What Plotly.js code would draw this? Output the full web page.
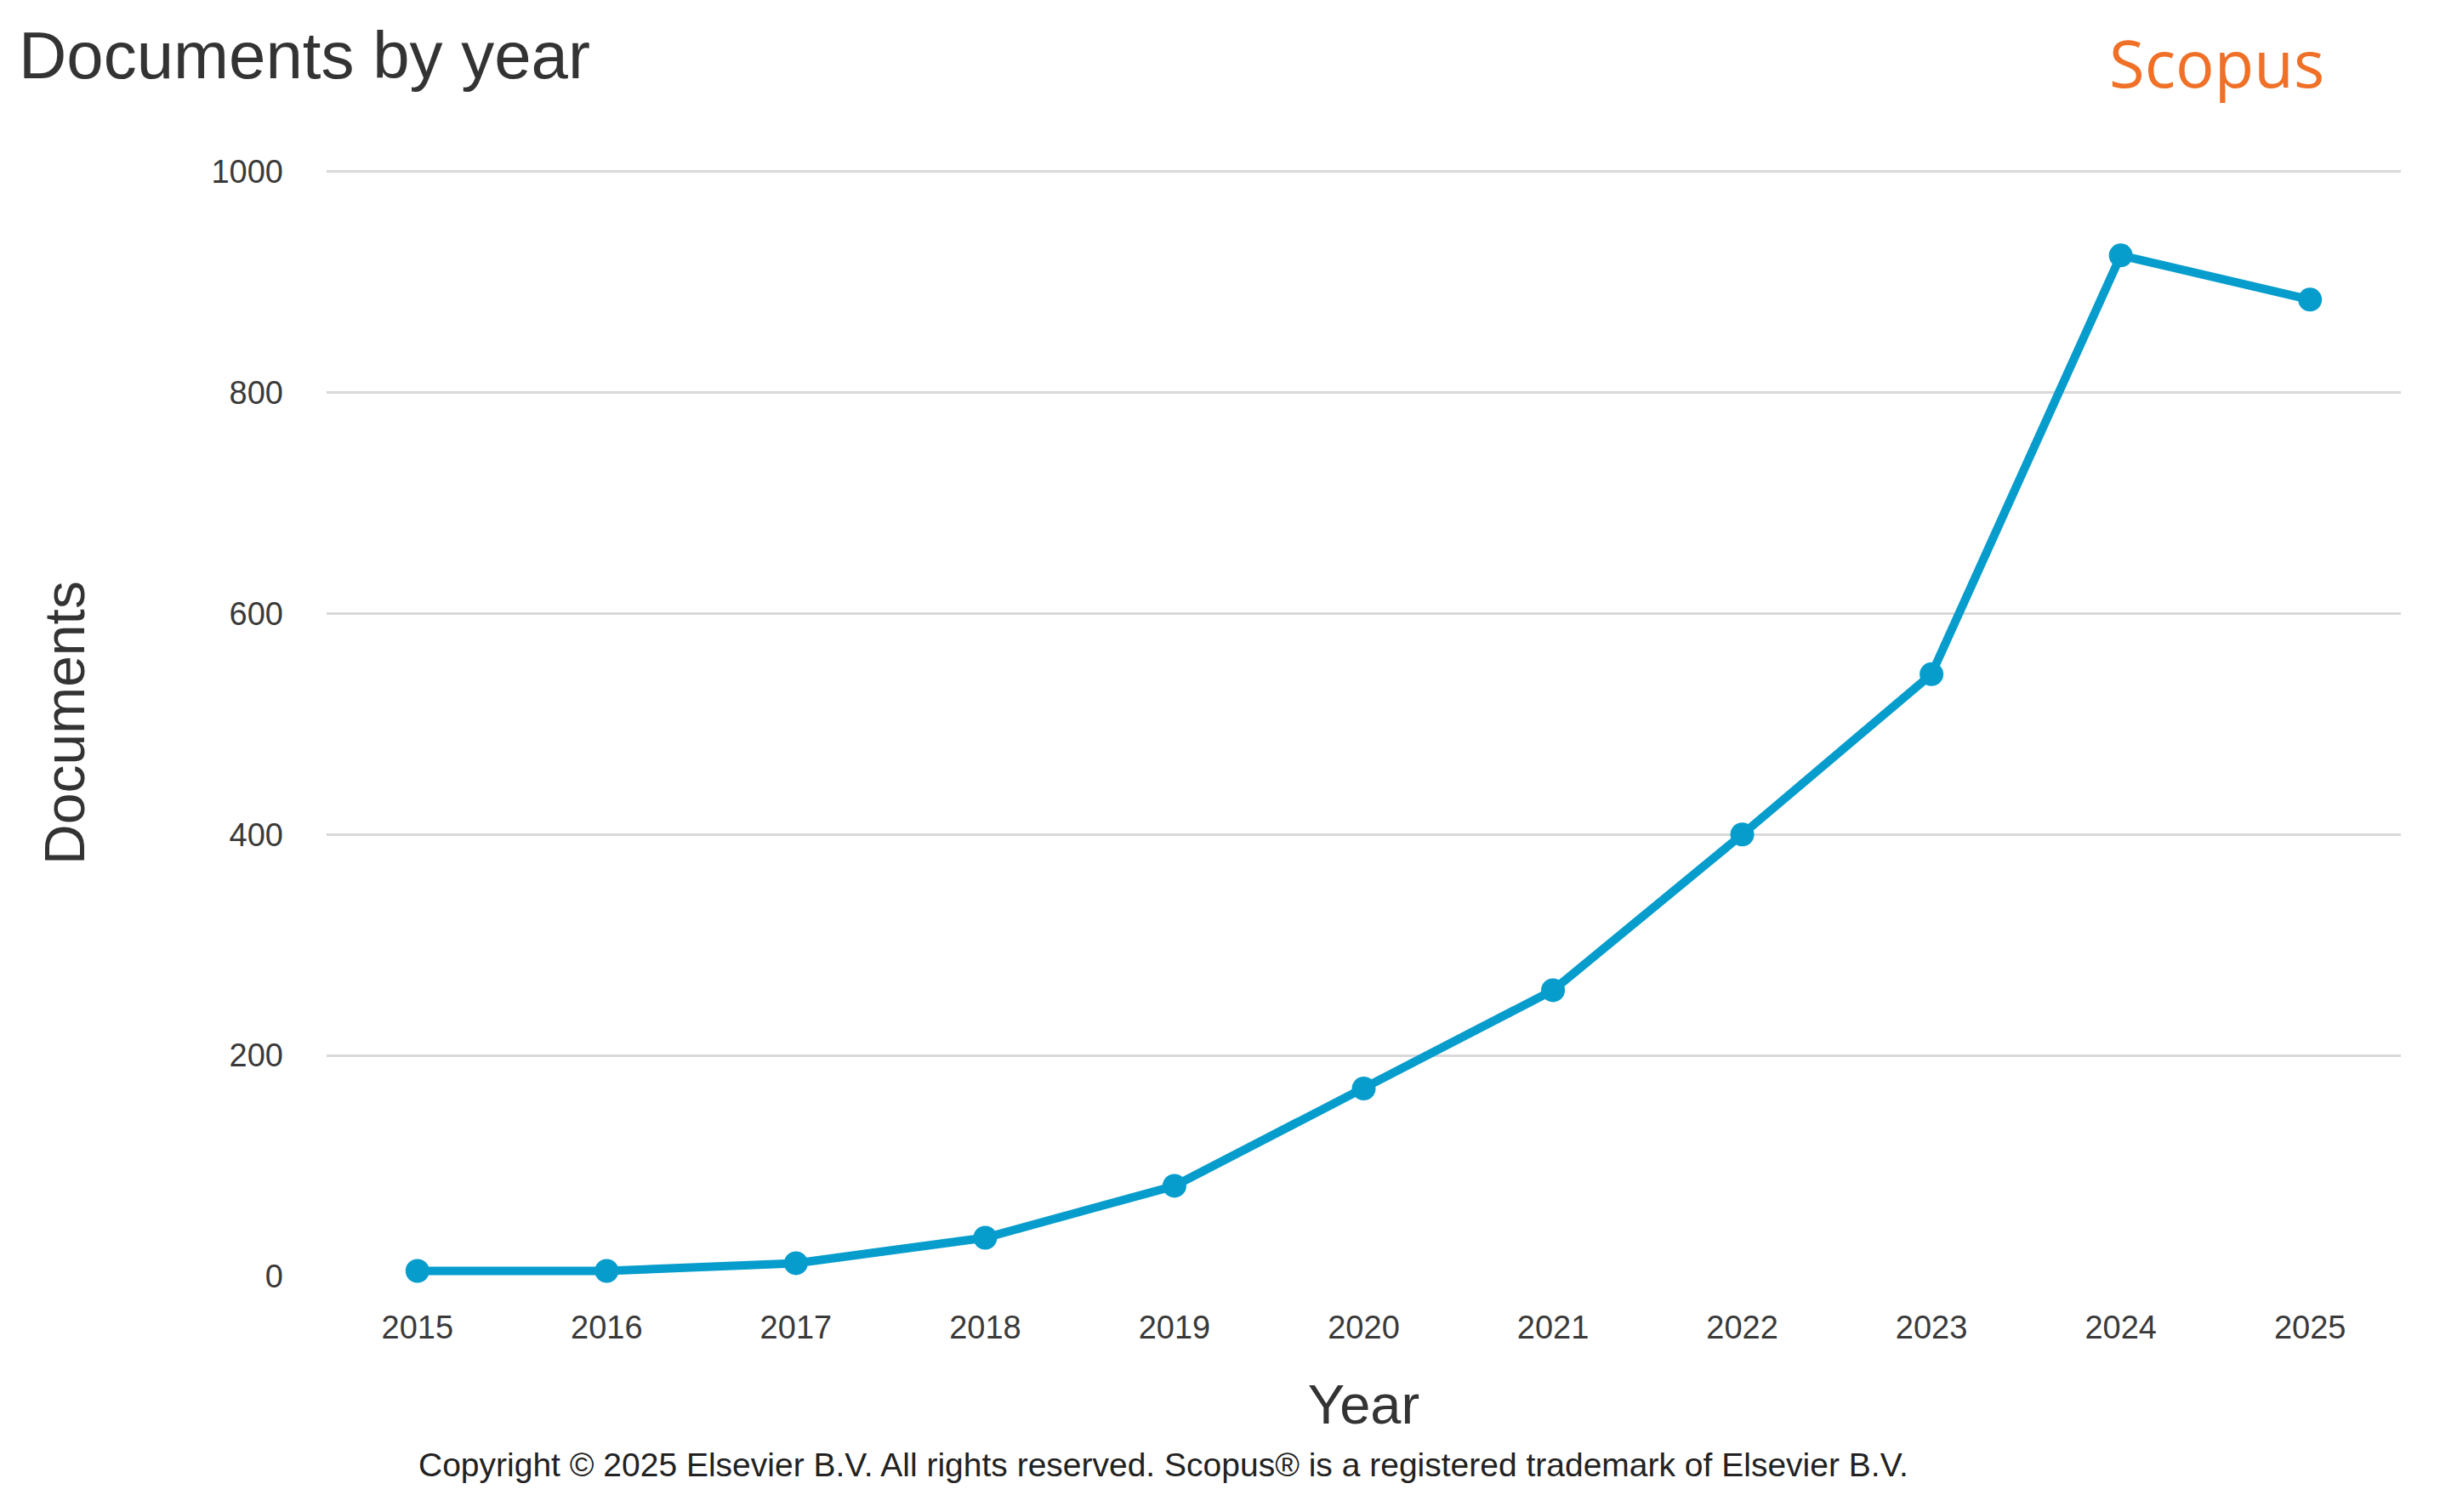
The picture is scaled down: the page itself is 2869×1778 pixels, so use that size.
<!DOCTYPE html>
<html>
<head>
<meta charset="utf-8">
<script src="https://cdn.plot.ly/plotly-3.0.1.min.js"></script>
<style>
  html, body { margin: 0; padding: 0; background: #ffffff; }
  #chart { width: 2869px; height: 1778px; }
</style>
</head>
<body>
<div id="chart"></div>
<script>
const years = [2015, 2016, 2017, 2018, 2019, 2020, 2021, 2022, 2023, 2024, 2025];
const documents = [5, 5, 12, 35, 82, 170, 259, 400, 545, 924, 884];
const yTicks = [0, 200, 400, 600, 800, 1000];

const chartTitle = 'Documents by year';
const xTitle = 'Year';
const yTitle = 'Documents';
const brand = 'Scopus';
const copyright = 'Copyright © 2025 Elsevier B.V. All rights reserved. Scopus® is a registered trademark of Elsevier B.V.';

const W = 2869, H = 1778;
const L = 384, R = 46, T = 199, B = 277;
const pw = W - L - R, ph = H - T - B;
const px = x => (x - L) / pw;
const py = y => (H - B - y) / ph;

const font = '"Liberation Sans", Arial, sans-serif';
const blue = '#069DCD';

const trace = {
  x: years,
  y: documents,
  type: 'scatter',
  mode: 'lines+markers',
  line: { color: blue, width: 10 },
  marker: { color: blue, size: 28 },
  cliponaxis: false,
  hoverinfo: 'x+y'
};

const layout = {
  width: W,
  height: H,
  margin: { l: L, r: R, t: T, b: B, pad: 0 },
  paper_bgcolor: '#ffffff',
  plot_bgcolor: '#ffffff',
  showlegend: false,
  font: { family: font, color: '#333333' },
  xaxis: {
    range: [2014.52, 2025.48],
    tickmode: 'array',
    tickvals: years,
    ticktext: years.map(String),
    showgrid: false,
    zeroline: false,
    showline: false,
    ticks: '',
    ticklabelstandoff: 34,
    tickfont: { family: font, size: 38, color: '#3a3a3a' },
    title: { text: xTitle, font: { family: font, size: 65, color: '#333333' }, standoff: 47 }
  },
  yaxis: {
    range: [0, 1002],
    tickmode: 'array',
    tickvals: yTicks,
    ticktext: yTicks.map(String),
    showgrid: true,
    gridcolor: '#d9d9d9',
    gridwidth: 3,
    zeroline: false,
    showline: false,
    ticks: '',
    ticklabelstandoff: 50,
    tickfont: { family: font, size: 38, color: '#3a3a3a' },
    title: { text: yTitle, font: { family: font, size: 66, color: '#333333' }, standoff: 127 }
  },
  annotations: [
    {
      text: chartTitle, xref: 'paper', yref: 'paper',
      x: px(20), y: py(65), xanchor: 'left', yanchor: 'middle',
      showarrow: false, font: { family: font, size: 78, color: '#333333' }
    },
    {
      text: brand, xref: 'paper', yref: 'paper',
      x: px(2606), y: py(74), xanchor: 'center', yanchor: 'middle',
      showarrow: false, font: { family: '"Open Sans", "Noto Sans", sans-serif', size: 76, color: '#EF7026' }
    },
    {
      text: copyright, xref: 'paper', yref: 'paper',
      x: px(1368), y: py(1722), xanchor: 'center', yanchor: 'middle',
      showarrow: false, font: { family: font, size: 39, color: '#222222' }
    }
  ]
};

Plotly.newPlot('chart', [trace], layout, { displayModeBar: false, staticPlot: true });
</script>
</body>
</html>
